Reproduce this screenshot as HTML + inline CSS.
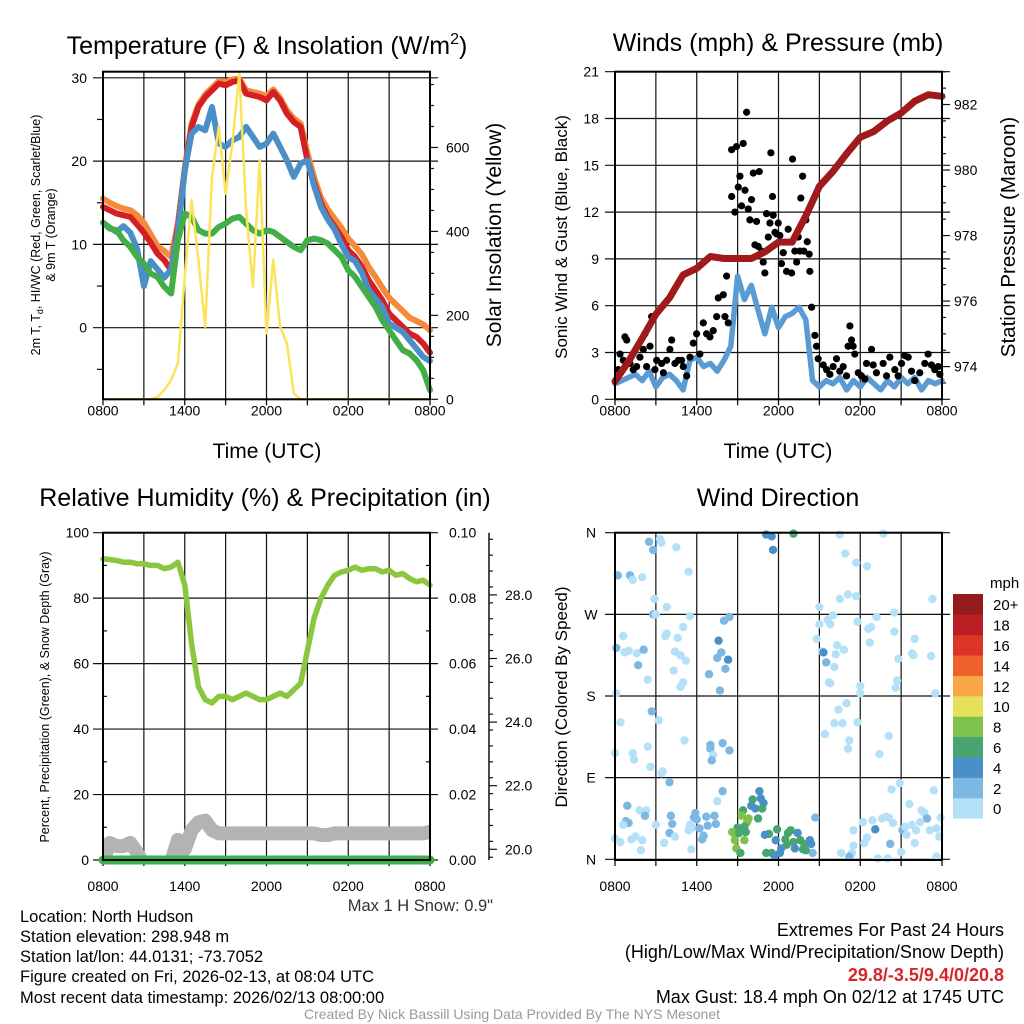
<!DOCTYPE html>
<html><head><meta charset="utf-8"><title>NYS Mesonet - North Hudson</title>
<style>
html,body{margin:0;padding:0;background:#fff;}
svg{display:block;font-family:"Liberation Sans",Arial,sans-serif;}
</style></head>
<body>
<svg id="fig" width="1024" height="1024" viewBox="0 0 1024 1024" xmlns="http://www.w3.org/2000/svg">
<defs>
<clipPath id="clip3"><rect x="103" y="532.7" width="327" height="327.3"/></clipPath>
</defs>
<rect x="0" y="0" width="1024" height="1024" fill="#fff"/>
<g id="p1"></g>
<g id="p2"></g>
<g id="p3"></g>
<g id="p4"></g>

<text x="267" y="54" font-size="25" text-anchor="middle">Temperature (F) &amp; Insolation (W/m<tspan font-size="16" dy="-10">2</tspan><tspan dy="10">)</tspan></text>
<text x="778" y="51" font-size="25" text-anchor="middle">Winds (mph) &amp; Pressure (mb)</text>
<text x="265" y="506" font-size="25" text-anchor="middle">Relative Humidity (%) &amp; Precipitation (in)</text>
<text x="778" y="506" font-size="25" text-anchor="middle">Wind Direction</text>

<text x="267" y="458" font-size="21" text-anchor="middle">Time (UTC)</text>
<text x="778" y="458" font-size="21" text-anchor="middle">Time (UTC)</text>

<text transform="translate(40,235) rotate(-90)" font-size="12.5" text-anchor="middle">2m T, T<tspan font-size="9" dy="3">d</tspan><tspan dy="-3">, HI/WC (Red, Green, Scarlet/Blue)</tspan></text>
<text transform="translate(55,235) rotate(-90)" font-size="12.5" text-anchor="middle">&amp; 9m T (Orange)</text>
<text transform="translate(501,235) rotate(-90)" font-size="21" text-anchor="middle">Solar Insolation (Yellow)</text>
<text transform="translate(567,237) rotate(-90)" font-size="17" text-anchor="middle">Sonic Wind &amp; Gust (Blue, Black)</text>
<text transform="translate(1015,237) rotate(-90)" font-size="20.5" text-anchor="middle">Station Pressure (Maroon)</text>
<text transform="translate(49,697) rotate(-90)" font-size="12.5" text-anchor="middle">Percent, Precipitation (Green), &amp; Snow Depth (Gray)</text>
<text transform="translate(567,697) rotate(-90)" font-size="17" text-anchor="middle">Direction (Colored By Speed)</text>

<text x="493" y="911" font-size="16.5" text-anchor="end" fill="#333">Max 1 H Snow: 0.9"</text>

<g font-size="16.5">
<text x="20" y="922">Location: North Hudson</text>
<text x="20" y="942">Station elevation: 298.948 m</text>
<text x="20" y="962">Station lat/lon: 44.0131; -73.7052</text>
<text x="20" y="982">Figure created on Fri, 2026-02-13, at 08:04 UTC</text>
<text x="20" y="1003">Most recent data timestamp: 2026/02/13 08:00:00</text>
</g>
<g font-size="18" text-anchor="end">
<text x="1004" y="936">Extremes For Past 24 Hours</text>
<text x="1004" y="958">(High/Low/Max Wind/Precipitation/Snow Depth)</text>
<text x="1004" y="981" fill="#d7262b" font-weight="bold">29.8/-3.5/9.4/0/20.8</text>
<text x="1004" y="1003">Max Gust: 18.4 mph On 02/12 at 1745 UTC</text>
</g>
<text x="512" y="1019" font-size="14" text-anchor="middle" fill="#999">Created By Nick Bassill Using Data Provided By The NYS Mesonet</text>
</svg>
<script>
// ---------- DATA (half-hourly from 0800 UTC, 49 samples) ----------
const xTickLabels = ["0800","1400","2000","0200","0800"];
const tempRed = [14.5,14.1,13.7,13.5,13.3,12.4,11.4,10.2,8.9,8.1,6.9,12.1,18.9,24.1,26.5,27.7,28.5,29.3,29.1,29.5,29.7,28.1,27.9,27.7,27.3,28.3,27.3,25.7,24.7,24.1,20.1,17.3,14.9,13.3,12.1,10.9,9.3,8.5,7.3,5.7,4.5,3.3,1.7,0.9,0.1,-0.7,-1.1,-1.9,-3.0];
const tempOrange = [15.5,15.0,14.6,14.3,14.1,13.5,12.6,11.2,9.8,9.2,8.5,12.5,19.2,24.5,26.8,28.0,28.8,29.6,29.5,29.8,29.9,28.5,28.3,28.1,27.8,28.6,27.6,26.1,25.1,24.5,21.0,18.0,15.6,14.2,13.1,12.0,10.7,9.8,8.8,7.3,6.1,4.8,3.6,2.8,2.0,1.2,0.8,0.4,-0.3];
const heatIndexBlue = [12.6,12.0,11.5,12.2,11.4,9.5,5.0,8.0,7.0,6.0,7.0,11.5,18.9,23.3,24.1,23.7,26.5,22.1,21.7,22.5,22.9,24.1,22.9,21.7,22.1,23.3,21.7,20.1,18.1,19.7,20.1,17.0,14.5,13.0,11.8,10.0,8.5,8.0,6.6,4.5,3.5,2.5,0.5,0.0,-0.5,-1.5,-2.5,-3.5,-4.0];
const dewGreen = [12.6,11.9,11.7,10.5,9.7,8.5,7.7,6.5,6.1,4.9,4.1,10.5,13.7,13.3,11.7,11.3,11.3,12.1,12.5,13.1,13.3,12.5,11.7,11.3,11.7,11.5,10.9,10.3,9.7,9.3,10.5,10.7,10.5,10.1,9.3,8.5,6.9,6.1,4.9,3.7,2.5,0.9,-0.3,-1.5,-2.7,-3.1,-3.9,-5.1,-7.5];
const solar = [0,0,0,0,0,0,0,0,6,22,46,86,292,475,332,173,530,650,490,610,776,451,268,570,157,332,173,133,14,0,0,0,0,0,0,0,0,0,0,0,0,0,0,0,0,0,0,0,0];
const tempTicks = [0,10,20,30];
const solarTicks = [0,200,400,600];

// winds (half-hourly), pressure (hourly)
const windSpeed = [1.0,1.2,1.4,1.6,1.2,1.8,0.8,1.4,1.6,1.2,0.6,2.5,2.7,2.1,2.3,1.8,2.5,3.4,7.9,6.4,7.3,5.7,4.2,5.9,4.6,5.3,5.5,5.9,5.1,1.2,0.8,1.2,1.0,1.4,0.6,1.2,0.8,1.4,1.0,0.6,1.2,0.8,1.4,1.0,1.4,0.6,1.2,1.0,1.2];
const pressure = [973.55,974.16,974.87,975.6,976.1,976.8,977.0,977.36,977.3,977.3,977.3,977.5,977.8,977.8,978.6,979.5,979.96,980.5,981.0,981.18,981.5,981.74,982.1,982.3,982.25];
const gustHour = [0.24,0.37,0.73,0.86,0.61,1.10,1.34,1.59,1.83,2.08,2.20,2.32,2.57,2.69,2.93,3.06,3.42,3.55,3.79,4.03,4.16,4.40,4.65,4.89,5.01,5.26,5.50,5.75,5.99,6.23,6.48,6.72,6.97,7.21,7.46,7.58,7.95,8.19,8.07,8.31,8.56,8.56,8.80,8.92,9.05,9.17,9.29,9.41,9.54,9.66,9.78,9.90,10.02,10.15,10.27,10.39,10.51,10.59,10.76,10.88,11.00,11.12,11.25,11.37,11.44,11.56,11.61,11.74,11.86,11.98,12.10,12.22,12.35,12.59,12.71,12.96,13.03,13.20,13.33,13.45,13.57,13.64,13.77,13.86,14.01,14.11,14.25,14.30,14.43,14.67,14.79,14.91,15.28,15.53,15.77,16.01,16.26,16.50,16.75,16.99,17.11,17.24,17.36,17.48,17.60,17.85,18.09,18.34,18.46,18.83,18.95,19.19,19.68,19.93,20.17,20.54,20.78,21.03,21.27,21.52,21.76,22.00,22.37,22.74,22.98,23.23,23.47,23.72,23.84];
const gustSpeed = [1.9,2.9,4.0,3.8,2.5,2.3,1.9,2.1,2.7,3.2,4.2,2.1,3.4,5.3,1.9,2.5,2.3,1.7,2.5,3.2,3.8,2.3,2.5,2.5,2.1,1.5,2.7,3.6,4.2,2.9,4.9,4.2,4.0,4.4,5.3,6.5,6.7,7.9,5.3,4.9,16.0,13.0,12.0,16.2,13.6,14.3,12.4,16.4,13.4,18.4,12.2,11.5,12.8,14.5,9.9,11.4,9.8,14.6,9.5,8.8,8.1,11.9,10.4,11.3,15.8,13.0,11.8,10.7,10.6,11.3,10.5,8.7,9.4,8.2,10.9,8.1,15.4,9.5,8.8,10.4,9.5,12.9,14.3,9.5,11.5,10.1,9.3,8.2,5.9,4.1,3.4,2.6,2.2,1.9,1.6,2.1,2.6,1.8,2.1,1.5,3.4,4.7,3.8,3.4,2.9,1.7,1.5,1.3,2.3,3.2,2.2,1.7,2.3,1.5,2.7,1.9,1.5,2.3,2.8,2.7,1.8,1.2,1.7,2.3,2.9,2.2,1.9,2.1,1.6];
const windTicks = [0,3,6,9,12,15,18,21];
const pressTicks = [974,976,978,980,982];

// humidity / precip / snow (half-hourly)
const relHumidity = [92,91.8,91.5,91,91,90.5,90.5,90,90,89,89.5,91,84,66,53,49,48,50,50,49,50,51,50,49,49,50,51,50,52,54,64,74,80,84,87,88,88.5,89.5,88.5,89,89,88,88.5,87,87.5,86,85,85.5,84];
const precip = [0,0,0,0,0,0,0,0,0,0,0,0,0,0,0,0,0,0,0,0,0,0,0,0,0,0,0,0,0,0,0,0,0,0,0,0,0,0,0,0,0,0,0,0,0,0,0,0,0];
const snowDepth = [19.6,20.2,20.1,20.1,20.2,19.9,19.5,19.5,19.5,19.5,19.6,20.3,20.0,20.6,20.85,20.9,20.6,20.5,20.5,20.5,20.5,20.5,20.5,20.5,20.5,20.5,20.5,20.5,20.5,20.5,20.5,20.5,20.45,20.45,20.5,20.5,20.5,20.5,20.5,20.5,20.5,20.5,20.5,20.5,20.5,20.5,20.5,20.5,20.55];
const rhTicks = [0,20,40,60,80,100];
const precipTicks = ["0.00","0.02","0.04","0.06","0.08","0.10"];
const snowTicks = [20,22,24,26,28];

// wind direction scatter
const dirHour = [2.5,2.8,3.3,3.4,4.5,0.2,1.1,1.3,2.0,5.4,2.9,3.8,2.8,3.0,5.5,0.6,0.1,0.7,1.0,1.6,2.1,1.7,3.8,3.7,4.6,5.0,4.4,4.8,5.2,4.3,2.4,5.0,4.8,0.1,8.0,8.4,7.6,7.8,7.5,8.3,8.1,6.9,7.7,11.1,11.5,11.6,13.1,16.5,16.9,17.7,18.5,19.7,16.5,17.1,17.7,15.0,23.3,15.0,15.6,15.8,16.0,17.8,18.6,18.8,19.2,20.5,20.5,22.0,14.8,18.7,15.2,15.3,15.5,16.1,16.2,16.3,16.8,15.7,15.8,18.0,18.0,20.7,20.6,20.8,21.8,21.9,23.2,23.5,
2.7,0.4,3.2,5.1,2.4,1.3,0.0,1.4,2.6,3.4,3.5,4.0,7.0,7.0,7.9,8.4,7.2,7.1,17.0,16.4,16.1,16.7,17.8,15.4,17.2,17.1,20.1,19.4,
0.9,0.8,1.0,0.6,1.8,2.3,2.2,3.0,4.1,4.2,4.0,4.4,3.6,0.0,0.4,1.2,1.5,2.0,1.9,5.9,5.8,6.0,5.5,5.7,5.4,6.2,6.5,6.4,6.7,6.8,7.3,7.4,7.5,7.9,5.6,
10.1,10.6,10.7,10.9,10.0,10.3,10.8,9.4,9.3,9.8,9.7,9.5,9.0,8.6,8.7,8.8,9.5,8.9,9.2,10.5,9.6,9.1,11.9,11.3,11.0,11.8,12.5,12.7,12.9,13.4,13.1,13.6,13.9,14.3,14.4,14.5,14.0,13.8,13.2,12.6,12.2,12.1,11.5,11.1,11.7,14.7,
16.6,17.4,17.5,17.5,18.2,18.5,18.3,19.1,18.9,19.6,19.9,20.1,20.4,20.2,19.3,20.0,20.3,20.9,21.6,21.1,21.3,21.8,22.1,22.5,22.7,22.9,22.4,23.1,23.6,23.8,23.9,23.4,22.0,21.4,23.6,21.0,17.2];
const dirDegrees = [350,341,353,349,344,313,313,308,311,317,287,278,270,270,268,246,233,228,230,227,231,214,249,246,244,256,229,225,219,208,198,195,190,183,263,267,241,228,222,220,210,204,186,358,356,341,359,358,337,327,323,359,287,292,290,278,287,259,264,259,269,262,254,256,267,272,251,243,243,239,229,228,217,212,226,236,231,195,194,191,183,197,189,221,227,225,224,183,
163,151,153,131,124,117,117,110,102,95,97,85,126,122,128,120,115,109,172,165,150,150,151,138,131,122,136,116,
59,42,40,38,54,54,48,38,48,39,29,25,18,23,19,22,25,21,10,51,46,44,38,35,32,34,26,22,47,37,48,39,64,75,11,
66,75,67,62,59,56,56,54,48,45,41,36,35,30,29,21,21,12,7,45,30,29,33,28,27,21,22,29,32,29,19,21,17,21,17,7,10,11,12,16,12,7,7,7,4,46,
7,7,15,32,41,24,18,33,43,45,47,46,40,17,1,1,77,84,61,32,36,38,32,54,51,45,41,32,34,25,46,76,18,27,3,8,3];
const dirSpeed = [3,3,1,1,1,3,3,1,1,1,1,1,3,1,1,1,3,1,1,1,3,3,1,1,1,1,1,1,1,1,1,1,1,1,3,3,5,3,3,5,3,3,3,5,5,5,7,1,1,1,1,1,1,1,1,1,1,1,1,1,1,1,1,1,1,1,1,1,1,1,1,5,3,1,1,1,1,1,1,1,1,1,1,1,1,1,1,1,
3,1,1,1,1,1,1,1,1,1,1,3,3,3,3,3,1,3,1,1,1,1,1,1,1,1,1,1,
3,3,3,1,1,1,3,1,3,3,3,1,1,1,1,1,1,1,1,3,3,3,1,1,1,3,3,3,3,3,3,3,1,3,1,
7,5,5,5,5,5,7,7,9,9,9,7,7,9,9,9,9,9,7,7,7,7,7,7,5,5,7,7,7,5,7,7,7,5,5,3,7,7,5,7,5,5,7,7,5,3,
1,1,1,1,1,1,1,5,1,1,1,1,1,3,1,1,1,1,1,3,1,1,1,1,1,3,1,1,1,1,1,1,1,1,1,1,3];
const dirTickLabels = ["N","E","S","W","N"];
const speedBinLabels = ["0","2","4","6","8","10","12","14","16","18","20+"];
const speedBinColors = ["#b5e1f8","#7cb8e3","#4a8fc7","#48a56f","#7fc24b","#e6e05a","#f7a746","#f0602a","#dd3328","#bb1e25","#931a1d"];

// ---------- helpers ----------
const NS = "http://www.w3.org/2000/svg";
function el(tag, attrs, parent){ const e=document.createElementNS(NS,tag); for(const k in attrs) e.setAttribute(k,attrs[k]); parent.appendChild(e); return e; }
const halfIdx = i => i*0.5;

const L1=103, R1=430, L2=615, R2=942, T1=71.7, B1=399.3, T2=532.7, B2=860;
const pxh1=(R1-L1)/24, pxh2=(R2-L2)/24;
const x1 = t => L1 + t*pxh1;
const x2 = t => L2 + t*pxh2;
const yTemp = v => 327.7 - v*8.33;
const ySolar = w => B1 - w*0.4197;
const yWind = v => B1 - v*15.6;
const yPress = p => 366.6 - (p-974)*32.76;
const yRH = v => B2 - v*3.273;
const yPrecip = v => B2 - v*3273;
const ySnow = s => 849.3 - (s-20)*31.8;
const yDir = d => 859.3 - d*0.9072;

function frame(g, L, R, T, B, hLines, name){
  for(let h=3; h<24; h+=3){
    const ln=el("line",{x1:L+h*(R-L)/24,x2:L+h*(R-L)/24,y1:T,y2:B,stroke:"#111","stroke-width":1.2},g);
    
    
  }
  hLines.forEach(y=>{
    const ln=el("line",{x1:L-10,x2:R+8,y1:y,y2:y,stroke:"#111","stroke-width":1.2},g);
    
    
  });
  for(let h=0; h<=24; h+=3){
    const tk=el("line",{x1:L+h*(R-L)/24,x2:L+h*(R-L)/24,y1:B,y2:B+6,stroke:"#111","stroke-width":1.3},g);
    
    
  }
  xTickLabels.forEach((s,i)=>{
    const tx=el("text",{x:L+i*6*(R-L)/24,y:B+(name==="p3"||name==="p4"?31:16),"font-size":14,"text-anchor":"middle"},g);
    tx.textContent=s;
    
    
  });
}
function border(g,L,R,T,B,name){
  const r=el("rect",{x:L,y:T,width:R-L,height:B-T,fill:"none",stroke:"#000","stroke-width":2},g);
  
  
}
function polyline(g, xs, ys, color, w, name){
  const pts = xs.map((x,i)=>x.toFixed(1)+","+ys[i].toFixed(1)).join(" ");
  const p=el("polyline",{points:pts,fill:"none",stroke:color,"stroke-width":w,"stroke-linejoin":"round","stroke-linecap":"round"},g);
  
  
  return p;
}
function yLabel(g, x, y, s, anchor, name){
  const t=el("text",{x:x,y:y+5,"font-size":14,"text-anchor":anchor},g);
  t.textContent=s;
  
  
}
function tick(g,x1_,x2_,y,name){
  const t=el("line",{x1:x1_,x2:x2_,y1:y,y2:y,stroke:"#111","stroke-width":1.2},g);
  
  
}

// ---------- Panel 1 ----------
const g1=document.getElementById("p1");
frame(g1,L1,R1,T1,B1,tempTicks.map(yTemp),"p1");
for(let v=-5; v<=30; v+=5){ if(v%10) tick(g1,L1-6,L1,yTemp(v),"p1-left-minor-tick"); }
tempTicks.forEach(v=>yLabel(g1,L1-16,yTemp(v),String(v),"end","p1-left-tick-label"));
for(let w=0; w<=750; w+=50){ tick(g1,R1,R1+(w%200?4:8),ySolar(w),"p1-right-tick"); }
solarTicks.forEach(v=>yLabel(g1,R1+16,ySolar(v),String(v),"start","p1-right-tick-label"));
polyline(g1, tempOrange.map((_,i)=>x1(halfIdx(i))), tempOrange.map(yTemp), "#f58a3a", 6, "series-9m-temp-orange");
polyline(g1, tempRed.map((_,i)=>x1(halfIdx(i))), tempRed.map(yTemp), "#d42025", 6, "series-2m-temp-red");
polyline(g1, heatIndexBlue.map((_,i)=>x1(halfIdx(i))), heatIndexBlue.map(yTemp), "#4a8fc7", 6, "series-wind-chill-blue");
polyline(g1, dewGreen.map((_,i)=>x1(halfIdx(i))), dewGreen.map(yTemp), "#43ae48", 6, "series-dewpoint-green");
polyline(g1, solar.map((_,i)=>x1(halfIdx(i))), solar.map(ySolar), "#fbe35a", 2.5, "series-solar-yellow");
border(g1,L1,R1,T1,B1,"p1");

// ---------- Panel 2 ----------
const g2=document.getElementById("p2");
frame(g2,L2,R2,T1,B1,windTicks.map(yWind),"p2");
windTicks.forEach(v=>yLabel(g2,L2-16,yWind(v),String(v),"end","p2-left-tick-label"));
for(let p=973.5; p<=983; p+=0.5){ tick(g2,R2,R2+(p%2===0?8:4),yPress(p),"p2-right-tick"); }
pressTicks.forEach(v=>yLabel(g2,R2+12,yPress(v),String(v),"start","p2-right-tick-label"));
polyline(g2, windSpeed.map((_,i)=>x2(halfIdx(i))), windSpeed.map(yWind), "#5a9bd3", 5.5, "series-sonic-wind-blue");
gustHour.forEach((t,i)=>{
  const c=el("circle",{cx:x2(t),cy:yWind(gustSpeed[i]),r:3.6,fill:"#000"},g2);
  
  
});
polyline(g2, pressure.map((_,i)=>x2(i)), pressure.map(yPress), "#a01a1c", 7, "series-pressure-maroon");
border(g2,L2,R2,T1,B1,"p2");

// ---------- Panel 3 ----------
const g3=document.getElementById("p3");
frame(g3,L1,R1,T2,B2,rhTicks.map(yRH),"p3");
for(let v=10; v<100; v+=20){ tick(g3,L1,L1+4,yRH(v),"p3-left-minor-tick"); tick(g3,R1-4,R1,yRH(v),"p3-right-minor-tick"); }
rhTicks.forEach(v=>yLabel(g3,L1-14,yRH(v),String(v),"end","p3-left-tick-label"));
precipTicks.forEach(v=>yLabel(g3,R1+19,yPrecip(parseFloat(v)),v,"start","p3-right-tick-label"));
const snowAx=el("line",{x1:489,x2:489,y1:T2,y2:B2,stroke:"#111","stroke-width":1.5},g3);


for(let s=19.75; s<=30; s+=0.5){ tick(g3,489,493,ySnow(s),"snow-minor-tick"); }
snowTicks.forEach(v=>{ tick(g3,489,497,ySnow(v),"snow-major-tick"); yLabel(g3,505,ySnow(v),v.toFixed(1),"start","snow-tick-label"); });
const snowLine = polyline(g3, snowDepth.map((_,i)=>x1(halfIdx(i))), snowDepth.map(ySnow), "#b3b3b3", 14, "series-snow-depth-gray");
snowLine.setAttribute("clip-path","url(#clip3)");
polyline(g3, relHumidity.map((_,i)=>x1(halfIdx(i))), relHumidity.map(yRH), "#8cc63f", 5.5, "series-humidity-green");
polyline(g3, precip.map((_,i)=>x1(halfIdx(i))), precip.map(yPrecip), "#3fae49", 9, "series-precip-green");
border(g3,L1,R1,T2,B2,"p3");

// ---------- Panel 4 ----------
const g4=document.getElementById("p4");
frame(g4,L2,R2,T2,B2,[0,90,180,270,360].map(yDir),"p4");
dirTickLabels.forEach((s,i)=>yLabel(g4,L2-24,yDir(i*90),s,"middle","p4-direction-label"));
const binColor = sp => speedBinColors[Math.min(10,Math.floor(sp/2))];
dirHour.forEach((t,i)=>{
  const c=el("circle",{cx:x2(t),cy:yDir(dirDegrees[i]),r:4.2,fill:binColor(dirSpeed[i])},g4);
  
  
});
border(g4,L2,R2,T2,B2,"p4");
const cbTop=594, cbH=20.4;
speedBinColors.forEach((col,i)=>{
  const y=cbTop+(10-i)*cbH;
  const r=el("rect",{x:953,y:y,width:30,height:cbH+0.3,fill:col},g4);
  
  
  const t=el("text",{x:993,y:y+cbH/2+6,"font-size":15},g4);
  t.textContent=speedBinLabels[i];
  
  
});
const mph=el("text",{x:990,y:588,"font-size":15},g4);
mph.textContent="mph";


</script>
</body></html>
